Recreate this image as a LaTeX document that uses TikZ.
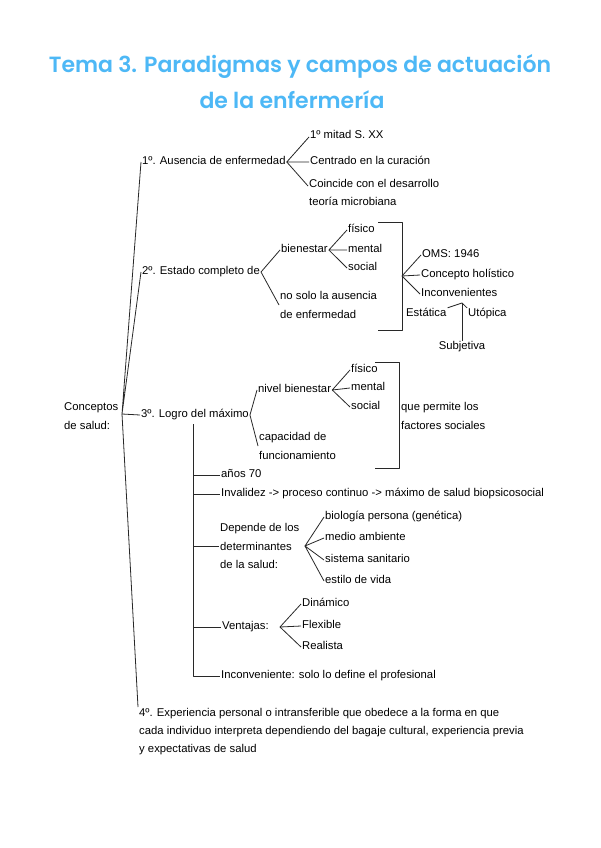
\documentclass[tikz,border=0pt]{standalone}
\usepackage{fontspec}
\setmainfont{Liberation Sans}
\newfontfamily\titlefont{Poppins}[UprightFont={* SemiBold}]
\definecolor{titleblue}{RGB}{77,184,246}
\definecolor{ink}{RGB}{40,40,40}
\begin{document}
\begin{tikzpicture}[x=1pt,y=-1pt,
  ml/.style={anchor=west,inner sep=1pt,font=\fontsize{11.3}{18.3}\selectfont,text=black,align=left},
  txt/.style={ml,text height=7pt,text depth=3pt},
  ttl/.style={inner sep=0pt,font=\titlefont\fontsize{22}{28}\selectfont,text=titleblue},
  ln/.style={draw=ink,line width=0.8pt},
  every path/.style={line join=round}]
\useasboundingbox[fill=white] (0,0) rectangle (600,848);
% title
\node[ttl] (t1) at (300,66) {Tema 3. Paradigmas y campos de actuación};
\node[ttl] (t2) at (292,100) {de la enfermería};
% root
\node[ml] (con) at (63,416) {Conceptos\\de salud:};
\coordinate (J) at (122,414);
\node[txt] (n1) at (141,162) {1º. Ausencia de enfermedad};
\node[txt] (n2) at (141,272) {2º. Estado completo de};
\node[txt] (n3) at (140,415) {3º. Logro del máximo};
\node[ml,anchor=north west] (n4) at (138,707) {4º. Experiencia personal o intransferible que obedece a la forma en que\\cada individuo interpreta dependiendo del bagaje cultural, experiencia previa\\y expectativas de salud};
\draw[ln] (n1.west) -- (J) -- (n2.west);
\draw[ln] (J) -- (n3.west);
\draw[ln] (J) -- (n4.north west);
% 1
\node[txt] (a1) at (309,137) {1º mitad S. XX};
\node[txt] (a2) at (309,162) {Centrado en la curación};
\node[ml,anchor=north west] (a3) at (308,178) {Coincide con el desarrollo\\teoría microbiana};
\draw[ln] (a1.west) -- (n1.east) -- (a2.west);
\draw[ln] (n1.east) -- ([yshift=-8pt]a3.north west);
% 2
\node[txt] (b1) at (280,250) {bienestar};
\node[ml] (b2) at (279,305) {no solo la ausencia\\de enfermedad};
\draw[ln] (b1.west) -- (n2.east) -- (b2.west);
\node[txt] (c1) at (347,230) {físico};
\node[txt] (c2) at (347,250) {mental};
\node[txt] (c3) at (347,268) {social};
\draw[ln] (c1.west) -- (b1.east) -- (c2.west);
\draw[ln] (b1.east) -- (c3.west);
\draw[ln] (378,222) -- (402,222) -- (402,330) -- (378,330);
\coordinate (br1) at (402,276);
\node[txt] (d1) at (421,255) {OMS: 1946};
\node[txt] (d2) at (420,275) {Concepto holístico};
\node[txt] (d3) at (420,294) {Inconvenientes};
\draw[ln] (d1.west) -- (br1) -- (d2.west);
\draw[ln] (br1) -- (d3.west);
\node[txt] (e1) at (405,314) {Estática};
\node[txt] (e2) at (467,314) {Utópica};
\node[txt,anchor=center] (e3) at (462,347) {Subjetiva};
\coordinate (caret) at (462,303);
\draw[ln] (e1.north east) -- (caret) -- (e2.north west);
\draw[ln] (e3.north) -- (caret);
% 3
\node[txt] (f1) at (257,390) {nivel bienestar};
\node[ml] (f2) at (258,446) {capacidad de\\funcionamiento};
\draw[ln] (f1.west) -- (n3.east) -- (f2.west);
\node[txt] (g1) at (350,370) {físico};
\node[txt] (g2) at (350,388) {mental};
\node[txt] (g3) at (350,407) {social};
\draw[ln] (g1.west) -- (f1.east) -- (g2.west);
\draw[ln] (f1.east) -- (g3.west);
\draw[ln] (375,362) -- (399,362) -- (399,468) -- (375,468);
\node[ml] (h) at (400,416) {que permite los\\factores sociales};
% trunk under 3
\coordinate (t0) at (193,424);
\node[txt] (k1) at (220,475) {años 70};
\node[txt] (k2) at (220,494) {Invalidez -> proceso continuo -> máximo de salud biopsicosocial};
\node[ml] (k3) at (219,546) {Depende de los\\determinantes\\de la salud:};
\node[txt] (k4) at (221,627) {Ventajas:};
\node[txt] (k5) at (220,676) {Inconveniente: solo lo define el profesional};
\draw[ln] (t0) -- (t0 |- k5.west) -- (k5.west);
\draw[ln] (t0 |- k1.west) -- (k1.west);
\draw[ln] (t0 |- k2.west) -- (k2.west);
\draw[ln] (t0 |- k3.west) -- (k3.west);
\draw[ln] (t0 |- k4.west) -- (k4.west);
\coordinate (k3f) at (305,546);
\node[txt] (m1) at (324,517) {biología persona (genética)};
\node[txt] (m2) at (324,538) {medio ambiente};
\node[txt] (m3) at (324,560) {sistema sanitario};
\node[txt] (m4) at (324,581) {estilo de vida};
\draw[ln] (m1.west) -- (k3f) -- (m2.west);
\draw[ln] (m3.west) -- (k3f) -- (m4.west);
\coordinate (k4f) at (280,627);
\node[txt] (p1) at (301,604) {Dinámico};
\node[txt] (p2) at (301,626) {Flexible};
\node[txt] (p3) at (301,647) {Realista};
\draw[ln] (p1.west) -- (k4f) -- (p2.west);
\draw[ln] (k4f) -- (p3.west);
\end{tikzpicture}
\end{document}
